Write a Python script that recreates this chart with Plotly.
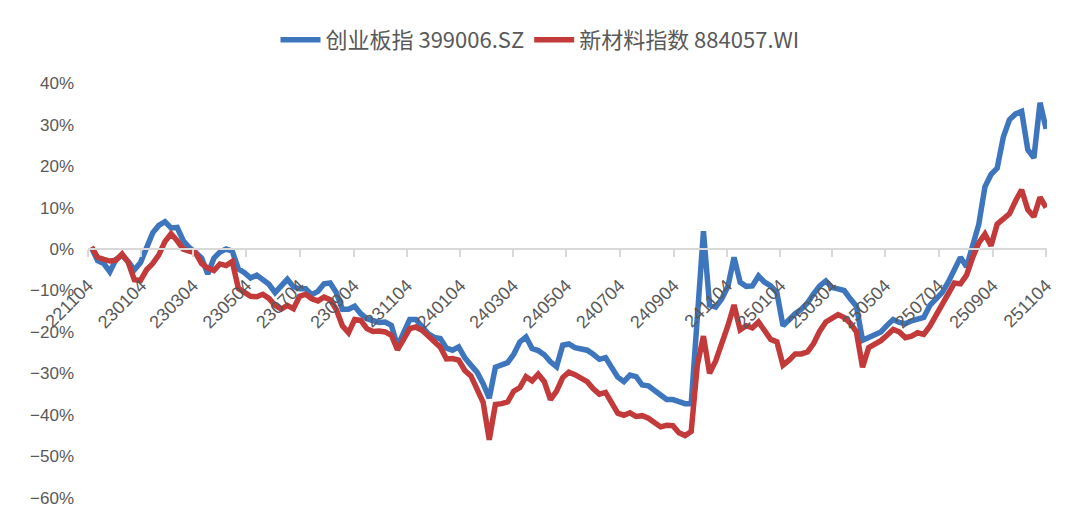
import pandas as pd
import plotly.graph_objects as go

# weekly closes, cumulative return in % since 2022-11-08
start_date = "2022-11-08"

cyb = [
    0.3, -2.8, -3.5, -5.5, -2.5, -1.5, -3.0, -5.0, -3.3, 0.5,
    3.9, 5.7, 6.6, 5.1, 5.2, 2.0, 0.3, -0.8, -2.2, -6.0,
    -2.2, -0.7, 0.0, -0.5, -4.8, -5.7, -7.0, -6.3, -7.3, -8.5,
    -10.5, -9.0, -7.3, -9.1, -9.6, -9.6, -11.0, -10.2, -8.4, -8.2,
    -10.5, -14.5, -14.5, -13.8, -15.6, -16.8, -17.4, -17.7, -17.6, -18.4,
    -23.4, -20.4, -17.0, -17.0, -18.6, -20.4, -21.3, -21.6, -23.9, -24.4,
    -23.6, -26.2, -28.0, -29.7, -32.5, -36.0, -28.5, -27.9, -27.4, -25.4,
    -22.4, -21.2, -24.0, -24.5, -25.5, -27.2, -28.4, -23.2, -22.9, -23.8,
    -24.0, -24.4, -25.4, -26.6, -26.2, -28.8, -30.9, -32.0, -30.4, -30.8,
    -32.8, -33.0, -34.3, -35.2, -36.3, -36.3, -36.8, -37.3, -37.3, -14.0,
    4.3, -13.5, -14.0, -12.0, -9.0, -2.0, -8.0, -9.0, -8.9, -6.5,
    -8.0, -8.9, -10.5, -18.5, -17.0, -15.6, -14.5, -13.0, -10.8, -8.9,
    -7.7, -9.3, -9.6, -10.0, -12.0, -13.8, -22.0, -21.4, -20.6, -20.0,
    -18.4, -17.0, -17.7, -18.0, -17.3, -16.8, -16.5, -13.6, -12.2, -10.5,
    -8.0, -5.0, -2.0, -4.3, 1.0, 6.0, 15.0, 18.0, 19.5, 27.0,
    31.2, 32.6, 33.2, 24.0, 22.0, 35.3, 29.0,
]

xcl = [
    0.5, -2.0, -2.5, -2.9, -2.7, -1.2, -3.2, -7.4, -7.6, -5.0,
    -3.5, -1.4, 1.8, 3.7, 2.0, 0.0, -0.5, -0.9, -3.5, -4.6,
    -5.2, -3.6, -4.0, -3.0, -9.5, -10.3, -11.4, -11.5, -10.9, -11.9,
    -13.6, -14.5, -13.6, -14.4, -11.4, -10.9, -12.0, -12.5, -11.6, -12.2,
    -14.6, -18.5, -20.2, -17.0, -17.2, -19.2, -19.9, -19.8, -20.0, -20.8,
    -24.3, -21.8, -19.2, -18.8, -19.6, -20.9, -22.5, -23.7, -26.5, -26.4,
    -26.8, -29.3, -30.6, -33.8, -37.0, -46.0, -37.5, -37.3, -36.9, -34.3,
    -33.4, -30.8, -31.8, -30.2, -32.0, -36.3, -34.3, -31.0, -29.7, -30.3,
    -31.0, -32.0, -33.7, -35.0, -34.6, -37.3, -39.6, -40.1, -39.5, -40.4,
    -40.2, -40.8, -41.8, -42.9, -42.5, -42.6, -44.3, -45.0, -44.0, -28.0,
    -21.0, -30.0, -27.0, -23.2, -18.5, -13.5, -19.5, -18.5, -19.0, -17.6,
    -20.0, -21.8, -22.4, -28.0, -26.8, -25.3, -25.3, -24.8, -22.8, -19.8,
    -17.6, -16.7, -15.8, -16.5, -17.9, -20.0, -28.5, -23.8, -23.0, -22.1,
    -20.8, -19.4, -20.0, -21.4, -21.0, -20.2, -20.6, -18.6, -16.0, -13.4,
    -10.5, -8.2, -8.4, -6.3, -2.0, 1.5, 3.6, 0.8, 6.0, 7.2,
    8.5, 11.6, 14.3, 9.5, 7.8, 12.5, 10.0,
]

tick_dates = [
    "2022-11-04", "2023-01-04", "2023-03-04", "2023-05-04", "2023-07-04",
    "2023-09-04", "2023-11-04", "2024-01-04", "2024-03-04", "2024-05-04",
    "2024-07-04", "2024-09-04", "2024-11-04", "2025-01-04", "2025-03-04",
    "2025-05-04", "2025-07-04", "2025-09-04", "2025-11-04",
]
tick_text = [
    "221104", "230104", "230304", "230504", "230704", "230904", "231104",
    "240104", "240304", "240504", "240704", "240904", "241104", "250104",
    "250304", "250504", "250704", "250904", "251104",
]

y_ticks = [40, 30, 20, 10, 0, -10, -20, -30, -40, -50, -60]
y_tick_text = ["40%", "30%", "20%", "10%", "0%", "−10%", "−20%",
               "−30%", "−40%", "−50%", "−60%"]

dates = pd.date_range(start_date, periods=len(cyb), freq="7D")

grey = "#595959"
axis_grey = "#D9D9D9"

fig = go.Figure()
fig.add_trace(go.Scatter(
    x=dates, y=cyb, mode="lines", name="创业板指 399006.SZ",
    line=dict(color="#3E76BE", width=5.5),
))
fig.add_trace(go.Scatter(
    x=dates, y=xcl, mode="lines", name="新材料指数 884057.WI",
    line=dict(color="#C23A3A", width=5.5),
))

y_lo, y_hi = -60.3, 40.3

# the page body adds an 8px offset, margins account for it
fig.update_layout(
    width=1080, height=529,
    margin=dict(l=80, r=41, t=74, b=38, autoexpand=False),
    paper_bgcolor="white", plot_bgcolor="white",
    showlegend=True,
    legend=dict(
        orientation="h", xref="container", yref="container",
        x=532 / 1080, xanchor="center", y=1 - 32 / 529, yanchor="middle",
        font=dict(family="Noto Sans CJK SC", size=22, color=grey),
        itemwidth=40,
    ),
    xaxis=dict(
        type="date",
        range=["2022-11-04", "2025-11-05"],
        tickmode="array", tickvals=tick_dates, ticktext=tick_text,
        tickangle=-45,
        tickfont=dict(family="Liberation Sans", size=18, color=grey),
        anchor="free", position=(0 - y_lo) / (y_hi - y_lo),
        showline=True, linecolor=axis_grey, linewidth=2,
        ticks="outside", ticklen=7, tickcolor=axis_grey, tickwidth=1.5,
        ticklabelstandoff=11,
        showgrid=False, zeroline=False,
    ),
    yaxis=dict(
        range=[y_lo, y_hi],
        tickmode="array", tickvals=y_ticks, ticktext=y_tick_text,
        tickfont=dict(family="Liberation Sans", size=17, color=grey),
        showgrid=False, zeroline=False, showline=False,
        ticklabelstandoff=13,
    ),
)

fig.write_html("out.html")
